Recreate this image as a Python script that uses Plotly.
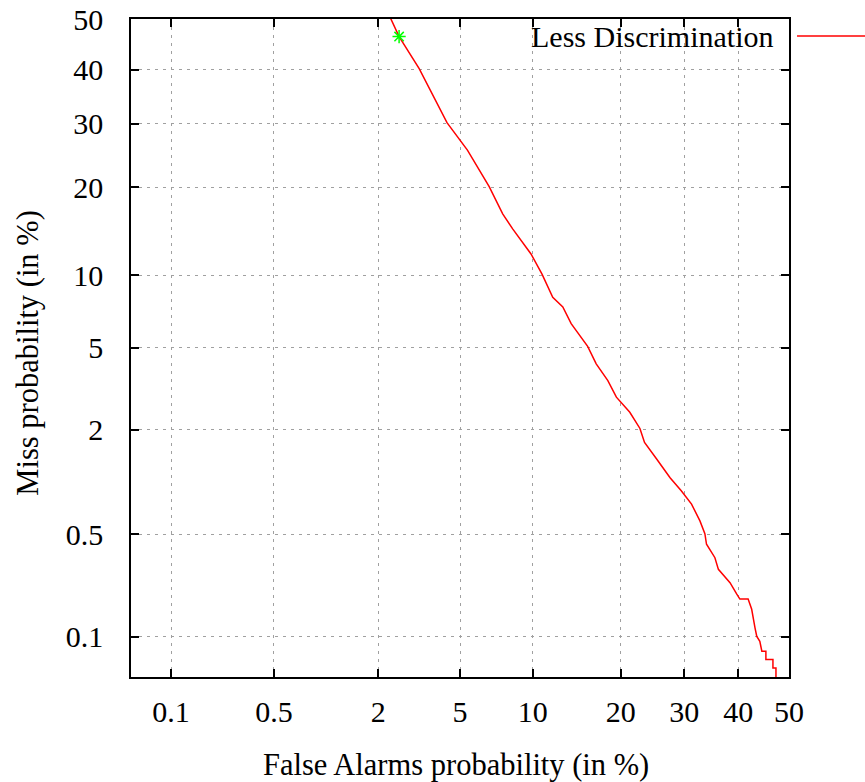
import plotly.graph_objects as go
from statistics import NormalDist

# ---- data (percent) ----
false_alarm_pct = [2.2, 2.56, 3.22, 4.36, 5.39, 6.69, 7.61, 8.35, 9.85, 10.84, 11.87, 12.9,
                   13.8, 15.7, 16.75, 18.25, 19.4, 21.3, 22.8, 23.5, 25.4, 27.6, 29.5, 31.3,
                   32.8, 33.7, 34.0, 35.55, 36.2, 38.4, 39.7, 40.3, 41.9, 42.6, 43.25, 43.6,
                   44.2, 44.6, 45.4, 45.4, 46.8, 46.8, 47.4, 47.4]
miss_pct = [52.0, 46.5, 40.2, 30.2, 25.6, 20.1, 16.5, 14.7, 12.0, 10.1, 8.2, 7.5,
            6.38, 5.08, 4.23, 3.53, 2.93, 2.46, 2.03, 1.71, 1.39, 1.09, 0.915, 0.763,
            0.604, 0.503, 0.431, 0.353, 0.296, 0.241, 0.201, 0.186, 0.186, 0.158, 0.1165, 0.101,
            0.093, 0.0785, 0.0785, 0.068, 0.068, 0.0587, 0.0587, 0.045]
point_fa_pct = [2.56]
point_miss_pct = [46.5]
tick_pct = [0.1, 0.5, 2, 5, 10, 20, 30, 40, 50]
tick_text = ["0.1", "0.5", "2", "5", "10", "20", "30", "40", "50"]
range_pct = [0.05, 50]
series_name = "Less Discrimination"

nd = NormalDist()
def probit(p):
    return [nd.inv_cdf(v / 100.0) for v in p]

FONT = "Liberation Serif, Times New Roman, serif"

fig = go.Figure()
fig.add_trace(go.Scatter(x=probit(false_alarm_pct), y=probit(miss_pct), mode="lines",
                         line=dict(color="#ff0000", width=1.5), showlegend=False,
                         name=series_name))
fig.add_trace(go.Scatter(x=probit(point_fa_pct), y=probit(point_miss_pct), mode="markers",
                         marker=dict(symbol="asterisk-open", size=11, color="#00ff00",
                                     line=dict(color="#00ff00", width=1.5)),
                         showlegend=False))

axis_common = dict(
    tickmode="array", tickvals=probit(tick_pct), ticktext=tick_text,
    range=probit(range_pct), showgrid=True, gridcolor="#a0a0a0", griddash="3px,5px",
    gridwidth=1, zeroline=False, showline=True, linecolor="black", linewidth=1.5,
    mirror="ticks", ticks="inside", ticklen=8, tickwidth=1.5, tickcolor="black",
    tickfont=dict(family=FONT, size=30, color="black"), automargin=False,
)
fig.update_xaxes(**axis_common, ticklabelstandoff=7)
fig.update_yaxes(**axis_common, ticklabelstandoff=20)

fig.add_annotation(text="False Alarms probability (in %)", xref="paper", yref="paper",
                   x=0.494, y=-0.134, xanchor="center", yanchor="middle", showarrow=False,
                   font=dict(family=FONT, size=30.5, color="black"))
fig.add_annotation(text="Miss probability (in %)", xref="paper", yref="paper",
                   x=-0.157, y=0.4924, xanchor="center", yanchor="middle", showarrow=False,
                   textangle=-90, font=dict(family=FONT, size=30.5, color="black"))
# legend (gnuplot style: text then line sample)
fig.add_annotation(text=series_name, xref="paper", yref="paper",
                   x=0.9787, y=0.974, xanchor="right", yanchor="middle", showarrow=False,
                   font=dict(family=FONT, size=30, color="black"))
fig.add_shape(type="line", xref="paper", yref="paper", x0=1.0122, x1=1.12, y0=0.974, y1=0.974,
              line=dict(color="#ff0000", width=1.5))

fig.update_layout(width=865, height=782, margin=dict(l=131, r=76, t=19, b=105, autoexpand=False),
                  plot_bgcolor="white", paper_bgcolor="white", showlegend=False)
fig.write_html("out.html")
